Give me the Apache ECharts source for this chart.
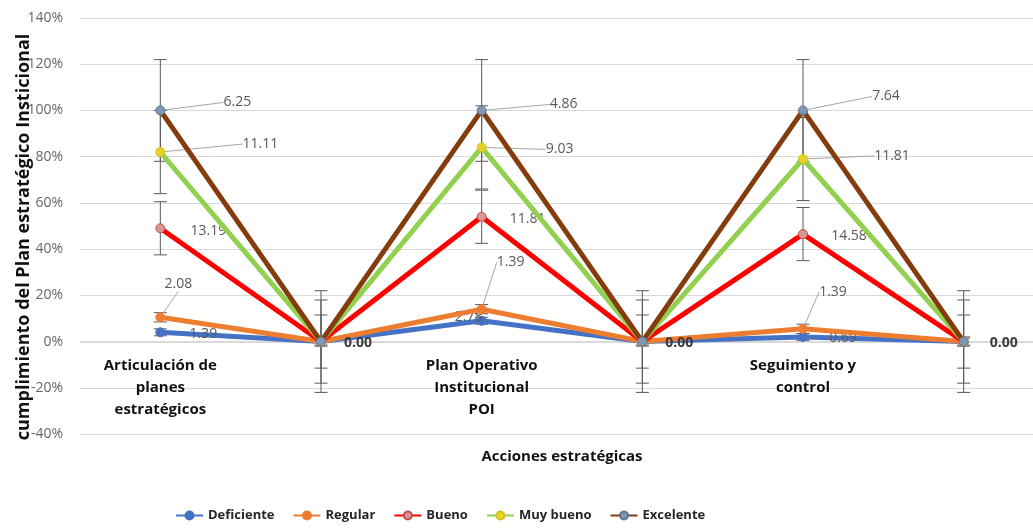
<!DOCTYPE html>
<html>
<head>
<meta charset="utf-8">
<script src="https://cdn.jsdelivr.net/npm/echarts@6/dist/echarts.min.js"></script>
<style>
html,body{margin:0;padding:0;background:#fff;}
#chart{width:1033px;height:528px;}
</style>
</head>
<body>
<div id="chart"></div>
<script>
// ---- data ----
const categories = ['Articulación de\nplanes\nestratégicos', '', 'Plan Operativo\nInstitucional\nPOI', '', 'Seguimiento y\ncontrol', ''];
const seriesNames = ['Deficiente', 'Regular', 'Bueno', 'Muy bueno', 'Excelente'];
const deficiente = [4, 0, 9, 0, 2, 0];
const regular = [10.5, 0, 14, 0, 5.5, 0];
const bueno = [49, 0, 54, 0, 46.5, 0];
const muyBueno = [82, 0, 84, 0, 79, 0];
const excelente = [100, 0, 100, 0, 100, 0];
const lblDeficiente = ['1.39', '', '2.78', '', '0.69', ''];
const lblRegular = ['2.08', '', '1.39', '', '1.39', ''];
const lblBueno = ['13.19', '', '11.81', '', '14.58', ''];
const lblMuyBueno = ['11.11', '', '9.03', '', '11.81', ''];
const lblExcelente = ['6.25', '0.00', '4.86', '0.00', '7.64', '0.00'];
const errorMargins = [1.5, 2, 11.5, 18, 22];
const yTicks = { min: -40, max: 140, interval: 20 };

// ---- styles ----
const lineColors = ['#4472C4', '#ED7D31', '#FF0000', '#92D050', '#843C0C'];
const markerColors = ['#4472C4', '#ED7D31', '#D99694', '#E6D22A', '#7F96B4'];
const markerBorders = ['#4472C4', '#ED7D31', '#C0504D', '#D4C21A', '#5F7896'];
// label offsets [dx, dy] from the point and whether a leader line is shown
const labelOffsets = [
  [[43, 2], null, [-13, -4], null, [40, 1], null],
  [[18, -33], null, [29, -47], null, [30, -37], null],
  [[48, 3], null, [46, 2], null, [46, 2], null],
  [[100, -8], null, [78, 2], null, [89, -3], null],
  [[77, -8], [37, 1], [82, -6], [37, 1], [83, -14], [40, 1]]
];
const leader = [
  [false, false, false, false, false, false],
  [true, false, true, false, true, false],
  [false, false, false, false, false, false],
  [true, false, true, false, true, false],
  [true, false, true, false, true, false]
];

const values = [deficiente, regular, bueno, muyBueno, excelente];
const labels = [lblDeficiente, lblRegular, lblBueno, lblMuyBueno, lblExcelente];

const series = [];
// error bars
const errData = [];
values.forEach((arr, s) => arr.forEach((v, i) => errData.push([i, v, errorMargins[s]])));
series.push({
  type: 'custom',
  name: 'err',
  z: 1,
  silent: true,
  data: errData,
  encode: { x: 0, y: 1 },
  renderItem: function (params, api) {
    const x = api.value(0), y = api.value(1), e = api.value(2);
    const top = api.coord([x, y + e]);
    const bot = api.coord([x, y - e]);
    const hw = 6.5;
    const st = { stroke: '#595959', lineWidth: 1 };
    return {
      type: 'group',
      children: [
        { type: 'line', shape: { x1: top[0], y1: top[1], x2: bot[0], y2: bot[1] }, style: st },
        { type: 'line', shape: { x1: top[0] - hw, y1: top[1], x2: top[0] + hw, y2: top[1] }, style: st },
        { type: 'line', shape: { x1: bot[0] - hw, y1: bot[1], x2: bot[0] + hw, y2: bot[1] }, style: st }
      ]
    };
  }
});

values.forEach((arr, s) => {
  series.push({
    type: 'line',
    name: seriesNames[s],
    z: 2 + s,
    data: arr.map((v, i) => {
      const off = labelOffsets[s][i];
      return {
        value: v,
        label: { show: !!off && labels[s][i] !== '' },
        labelLine: { show: leader[s][i] }
      };
    }),
    symbol: 'circle',
    symbolSize: 9,
    lineStyle: { color: lineColors[s], width: 5 },
    itemStyle: { color: markerColors[s], borderColor: markerBorders[s], borderWidth: 1 },
    label: {
      show: true,
      position: 'inside',
      formatter: function (p) { return labels[s][p.dataIndex]; },
      color: '#595959',
      fontFamily: 'Open Sans',
      fontSize: 14
    },
    labelLine: { show: false, lineStyle: { color: '#A6A6A6', width: 1 } },
    labelLayout: function (p) {
      const off = labelOffsets[s][p.dataIndex] || [0, 0];
      return { dx: off[0], dy: off[1] };
    },
    emphasis: { disabled: true },
    animation: false
  });
});
// darker zero labels
series[5].data.forEach((d, i) => {
  if (excelente[i] === 0) {
    d.label.color = '#3A3A3A';
    d.label.fontWeight = 'bold';
  }
});

const chart = echarts.init(document.getElementById('chart'), null, { renderer: 'canvas' });
chart.setOption({
  animation: false,
  backgroundColor: '#ffffff',
  grid: { left: 80, top: 18, width: 964, height: 416, containLabel: false, outerBoundsMode: 'none' },
  legend: {
    data: seriesNames,
    left: 170,
    bottom: 1,
    itemWidth: 27,
    itemHeight: 10,
    itemGap: 18,
    textStyle: { fontFamily: 'Open Sans', fontSize: 13, fontWeight: 'bold', color: '#262626' }
  },
  xAxis: {
    type: 'category',
    data: categories,
    boundaryGap: true,
    offset: -92,
    axisLine: { show: true, onZero: false, lineStyle: { color: '#D9D9D9' } },
    axisTick: { show: false },
    axisLabel: {
      interval: 0,
      margin: 13,
      color: '#111',
      fontFamily: 'Open Sans',
      fontWeight: 'bold',
      fontSize: 15,
      lineHeight: 22
    },
    name: 'Acciones estratégicas',
    nameLocation: 'middle',
    nameGap: 107,
    nameMoveOverlap: false,
    nameTextStyle: { color: '#111', fontFamily: 'Open Sans', fontWeight: 'bold', fontSize: 15 }
  },
  yAxis: {
    type: 'value',
    min: yTicks.min,
    max: yTicks.max,
    interval: yTicks.interval,
    axisLine: { show: false },
    axisTick: { show: false },
    splitLine: { lineStyle: { color: '#D9D9D9', width: 1 } },
    axisLabel: {
      formatter: '{value}%',
      margin: 17,
      color: '#666666',
      fontFamily: 'Open Sans',
      fontSize: 14
    },
    name: 'cumplimiento del Plan estratégico Insticional',
    nameLocation: 'middle',
    nameGap: 47,
    nameRotate: 90,
    nameMoveOverlap: false,
    nameTextStyle: { color: '#111', fontFamily: 'Open Sans', fontWeight: 'bold', fontSize: 18, padding: [0, 22, 0, 0] }
  },
  series: series
});
</script>
</body>
</html>
